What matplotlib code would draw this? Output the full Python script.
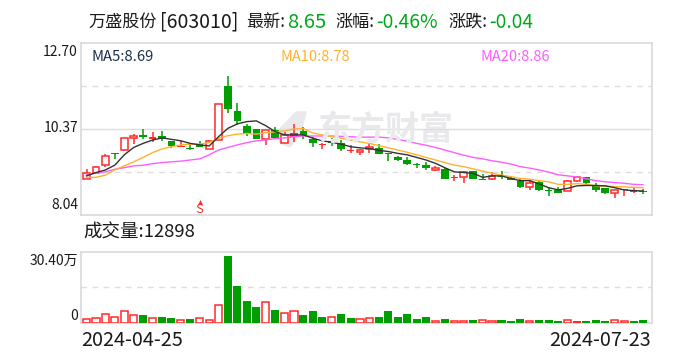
import matplotlib
matplotlib.use("Agg")
import matplotlib.pyplot as plt
from matplotlib.patches import Polygon

plt.rcParams['font.family'] = ['Noto Sans CJK SC', 'DejaVu Sans']

# 日K数据
opens = [9.02, 9.18, 9.39, 9.72, 9.79, 10.12, 10.21, 10.15, 10.17, 10.05,
         9.91, 9.84, 9.96, 9.82, 10.06, 11.54, 10.86, 10.45, 10.37, 10.09,
         10.34, 10.00, 10.25, 10.32, 10.09, 9.96, 10.05, 10.00, 9.79, 9.74,
         9.83, 9.86, 9.71, 9.61, 9.53, 9.41, 9.39, 9.25, 9.28, 9.05,
         9.08, 9.22, 9.01, 9.02, 9.10, 9.03, 8.97, 8.81, 8.93, 8.71,
         8.72, 8.70, 8.97, 9.07, 8.83, 8.78, 8.63, 8.72, 8.72, 8.66]
closes = [9.19, 9.35, 9.65, 9.69, 10.12, 10.17, 10.15, 10.11, 10.11, 9.92,
          9.89, 9.82, 9.89, 10.04, 11.04, 10.92, 10.60, 10.23, 10.11, 10.35,
          10.12, 10.21, 10.16, 10.20, 10.00, 9.93, 10.00, 9.83, 9.78, 9.79,
          9.89, 9.70, 9.69, 9.54, 9.43, 9.39, 9.31, 9.31, 9.02, 9.04,
          9.21, 9.02, 8.99, 9.11, 9.08, 8.99, 8.80, 8.90, 8.72, 8.69,
          8.64, 8.95, 9.06, 8.90, 8.72, 8.64, 8.71, 8.71, 8.67, 8.65]
highs = [9.28, 9.36, 9.69, 9.73, 10.13, 10.23, 10.36, 10.30, 10.32, 10.05,
         10.05, 9.98, 10.05, 10.07, 11.04, 11.81, 11.07, 10.51, 10.37, 10.35,
         10.43, 10.30, 10.51, 10.43, 10.16, 10.00, 10.12, 10.07, 9.94, 9.82,
         9.96, 9.96, 9.73, 9.64, 9.62, 9.46, 9.48, 9.38, 9.30, 9.12,
         9.24, 9.23, 9.14, 9.20, 9.23, 9.10, 9.03, 8.99, 8.97, 8.81,
         8.79, 8.99, 9.06, 9.07, 8.90, 8.78, 8.71, 8.72, 8.81, 8.75]
lows = [9.01, 9.18, 9.33, 9.57, 9.78, 9.96, 10.09, 10.02, 10.05, 9.85,
        9.88, 9.80, 9.87, 9.82, 10.06, 10.81, 10.48, 10.18, 10.09, 9.94,
        10.09, 10.00, 10.03, 10.10, 9.89, 9.84, 9.92, 9.78, 9.73, 9.67,
        9.73, 9.69, 9.51, 9.49, 9.39, 9.31, 9.26, 9.24, 9.01, 8.97,
        8.91, 9.01, 8.99, 8.99, 9.01, 8.99, 8.77, 8.72, 8.70, 8.55,
        8.63, 8.70, 8.94, 8.87, 8.66, 8.61, 8.50, 8.55, 8.63, 8.61]
# r=空心红 R=实心红 g=绿
candle_kinds = list("rrrgrrgRggRggrrggggrgrRggRggRrrggggggrgRrggrgggrgggrrgggrRRg")

ma5 = [9.10, 9.19, 9.26, 9.39, 9.67, 9.87, 9.98, 10.07, 10.13, 10.09,
       10.05, 9.98, 9.94, 9.91, 10.16, 10.39, 10.51, 10.57, 10.59, 10.46,
       10.30, 10.21, 10.21, 10.21, 10.12, 10.05, 10.01, 9.96, 9.89, 9.86,
       9.84, 9.79, 9.76, 9.71, 9.67, 9.60, 9.53, 9.44, 9.32, 9.21,
       9.19, 9.17, 9.06, 9.10, 9.10, 9.03, 8.97, 8.97, 8.88, 8.78,
       8.72, 8.76, 8.83, 8.84, 8.84, 8.83, 8.78, 8.72, 8.70, 8.69]
ma10 = [9.06, 9.06, 9.12, 9.26, 9.37, 9.48, 9.60, 9.73, 9.83, 9.89,
        9.94, 9.96, 9.96, 10.00, 10.12, 10.19, 10.23, 10.25, 10.23, 10.27,
        10.29, 10.32, 10.37, 10.38, 10.26, 10.21, 10.16, 10.12, 10.07, 10.02,
        9.98, 9.92, 9.86, 9.80, 9.74, 9.67, 9.60, 9.53, 9.46, 9.39,
        9.35, 9.29, 9.23, 9.17, 9.12, 9.08, 9.03, 9.01, 8.97, 8.94,
        8.87, 8.87, 8.89, 8.87, 8.83, 8.82, 8.81, 8.80, 8.79, 8.78]
ma20 = [9.14, 9.17, 9.21, 9.28, 9.32, 9.37, 9.39, 9.43, 9.46, 9.48,
        9.50, 9.53, 9.56, 9.67, 9.80, 9.87, 9.94, 10.00, 10.05, 10.07,
        10.11, 10.13, 10.16, 10.18, 10.18, 10.18, 10.18, 10.17, 10.16, 10.15,
        10.15, 10.15, 10.13, 10.09, 10.04, 9.98, 9.93, 9.87, 9.80, 9.73,
        9.66, 9.60, 9.56, 9.51, 9.47, 9.42, 9.35, 9.31, 9.26, 9.20,
        9.13, 9.10, 9.07, 9.02, 8.97, 8.94, 8.92, 8.90, 8.87, 8.86]

# 成交量 (万)
volumes = [2.0, 2.4, 4.2, 2.9, 5.6, 3.8, 3.5, 2.4, 2.6, 2.1,
           1.5, 1.7, 2.4, 1.5, 8.3, 30.4, 16.6, 9.8, 7.1, 9.7,
           5.7, 4.7, 5.6, 3.5, 5.3, 2.6, 2.9, 3.9, 2.1, 2.0,
           2.4, 2.6, 5.3, 2.6, 3.9, 1.7, 2.6, 1.1, 1.7, 1.1,
           1.1, 1.2, 1.5, 1.1, 1.2, 0.8, 1.7, 1.1, 1.2, 1.2,
           0.8, 1.5, 0.8, 0.8, 1.2, 0.8, 1.5, 1.1, 0.8, 1.29]
volume_kinds = list("rrrrrrgrggrgrrrggggrgrrgggrggrrggggggrgrrgrrgggrgggrRgggrrgg")

price_ticks = [8.04, 10.37, 12.70]
price_labels = ["8.04", "10.37", "12.70"]
volume_max = 30.4
date_labels = ["2024-04-25", "2024-07-23"]

RED = "#ff2a2a"
GREEN = "#009e00"
TEXT = "#1a1a1a"
TEXT_GREEN = "#00a81c"
BORDER = "#d8d8de"
W, H = 688, 360


def put(x, y, s, **kw):
    # 按像素位置放文字
    kw.setdefault("color", TEXT)
    kw.setdefault("va", "center")
    return fig.text(x / W, 1 - y / H, s, **kw)


fig = plt.figure(figsize=(6.88, 3.6), dpi=100)
ax = fig.add_axes([81 / W, 1 - 215 / H, 570.5 / W, 172 / H])
ax2 = fig.add_axes([81 / W, 1 - 323 / H, 570.5 / W, 71.3 / H])

xs = list(range(len(closes)))
xlim = (-5.5 / 9.43, 59 + 8.5 / 9.43)

# 水印
put(386, 130, "东方财富", fontsize=24.5, color="#e9e9ec", ha="center", weight="bold", zorder=0)
fig.add_artist(Polygon([(277 / W, 1 - 132 / H), (296 / W, 1 - 112 / H), (306 / W, 1 - 112 / H),
                        (300 / W, 1 - 135 / H), (290 / W, 1 - 147 / H), (280 / W, 1 - 143 / H)],
                       closed=True, color="#e9e9ec", zorder=0))

for a in (ax, ax2):
    a.set_xlim(xlim)
    a.patch.set_alpha(0)
    a.set_xticks([])
    a.set_yticks([])
    for s in a.spines.values():
        s.set_color(BORDER)
        s.set_linewidth(1.2)

# K线
ax.set_ylim(8.04, 12.70)
ax.axhline(11.535, color="#dddddd", lw=1, ls=(0, (4, 4)), zorder=1)
ax.axhline(9.205, color="#dddddd", lw=1, ls=(0, (4, 4)), zorder=1)
ax.axhline(10.37, color="#dddddd", lw=1, zorder=1)

for i in xs:
    kind = candle_kinds[i]
    color = GREEN if kind == "g" else RED
    lo = min(opens[i], closes[i])
    hi = max(opens[i], closes[i])
    ax.vlines(i, lows[i], highs[i], color=color, lw=1.1, zorder=2)
    if kind == "r":
        ax.bar(i, hi - lo, 0.72, bottom=lo, facecolor="white", edgecolor=color, lw=1.1, zorder=3)
    else:
        ax.bar(i, max(hi - lo, 0.03), 0.8, bottom=lo, color=color, lw=0, zorder=3)

ax.plot(xs, ma20, color="#ff5cff", lw=1.0, zorder=4)
ax.plot(xs, ma10, color="#ffb12e", lw=1.0, zorder=5)
ax.plot(xs, ma5, color="#333333", lw=1.0, zorder=6)

# S 标记
ax.scatter([12], [8.40], marker="^", s=12, color=RED, lw=0, zorder=5)
ax.text(12, 8.19, "S", color=RED, fontsize=9.5, ha="center", va="center", zorder=5)

# 成交量
ax2.set_ylim(0, volume_max * 71.3 / 67)
ax2.axhline(volume_max * 35.65 / 67, color="#dddddd", lw=1, ls=(0, (4, 4)), zorder=1)
for i in xs:
    if volume_kinds[i] == "r":
        ax2.bar(i, volumes[i], 0.76, facecolor="white", edgecolor=RED, lw=1.1, zorder=3)
    else:
        color = GREEN if volume_kinds[i] == "g" else RED
        ax2.bar(i, volumes[i], 0.86, color=color, lw=0, zorder=3)

# 标题
put(88, 22, "万盛股份", fontsize=12.3)
put(160, 22, "[603010]", fontsize=14, )
put(246, 22, "最新:", fontsize=12.3)
put(287, 22, "8.65", fontsize=14.6, color=TEXT_GREEN)
put(335, 22, "涨幅:", fontsize=12.3)
put(376, 22, "-0.46%", fontsize=13.8, color=TEXT_GREEN)
put(448, 22, "涨跌:", fontsize=12.3)
put(489, 22, "-0.04", fontsize=13.8, color=TEXT_GREEN)

put(91, 57, "MA5:8.69", fontsize=10.7, color="#1d2f4a")
put(281, 57, "MA10:8.78", fontsize=10.5, color="#ffb12e")
put(481, 57, "MA20:8.86", fontsize=10.5, color="#ff5cff")

put(78, 52, price_labels[2], fontsize=10, ha="right")
put(78, 128, price_labels[1], fontsize=10, ha="right")
put(78, 205, price_labels[0], fontsize=10, ha="right")

put(83, 233, "成交量:12898", fontsize=13.3)
put(78, 261, "30.40万", fontsize=10, ha="right")
put(78, 316, "0", fontsize=10, ha="right")
put(81, 341, date_labels[0], fontsize=14.3)
put(651, 341, date_labels[1], fontsize=14.3, ha="right")

fig.savefig("out.png", dpi=100)
